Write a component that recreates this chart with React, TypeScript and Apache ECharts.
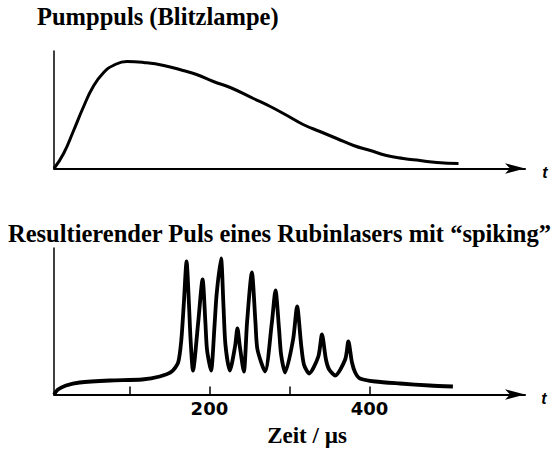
import React, { useEffect, useRef } from "react";
import * as echarts from "echarts";

// Pump pulse (flash lamp): time in µs, relative intensity
const pumpTime = [6, 18, 30, 43, 55, 68, 80, 97, 118, 143, 167, 184, 205, 226, 255, 276, 297, 317, 338, 359, 380, 401, 421, 442, 463, 484, 511];
const pumpIntensity = [0, 15, 37, 62, 82, 96, 103, 107, 106, 103, 98, 94, 87, 81, 70, 62, 53, 44, 37, 30, 23, 18, 13, 10, 8, 6, 5];

// Ruby laser output with spiking: time in µs, relative intensity
const laserTime = [6, 11, 21, 38, 76, 116, 138, 153, 161, 165, 168, 171.5, 174.5, 176.5, 179.5, 186, 191.5, 195, 197, 202, 206.5, 209, 214.5, 217.5, 220, 225.5, 232, 235, 238, 243, 247, 253, 257.5, 260, 269.5, 278, 282.5, 287, 289.5, 294.5, 304.5, 309.5, 314.5, 318, 324.5, 336, 340.5, 345.5, 349.5, 357, 369.5, 373.5, 378, 382, 388, 407, 438, 475, 504];
const laserIntensity = [0, 5, 9, 12, 14, 15, 18, 23, 32, 55, 90, 133, 90, 55, 24, 72, 115, 72, 45, 24, 70, 100, 136, 90, 50, 24, 48, 66, 48, 23, 72, 122, 72, 45, 23, 72, 104, 65, 40, 22, 55, 88, 50, 30, 21, 38, 60, 35, 25, 19, 35, 53, 32, 22, 16, 13, 11, 9, 8];

const tickValues = [100, 200, 300, 400];
const labelValues = [200, 400];

const title1 = "Pumppuls (Blitzlampe)";
const title2 = "Resultierender Puls eines Rubinlasers mit \u201Cspiking\u201D";
const xName = "Zeit / \u00B5s";

export default function App() {
  const ref = useRef<HTMLDivElement>(null);

  useEffect(() => {
    if (!ref.current) return;
    const chart = echarts.init(ref.current, null, { renderer: "svg" });
    const black = "#000";
    const serif = "'Liberation Serif', 'Times New Roman', serif";

    const baseX = {
      type: "value",
      min: 6,
      max: 594,
      splitLine: { show: false },
      axisLine: {
        show: true,
        symbol: ["none", "arrow"],
        symbolSize: [8, 20],
        lineStyle: { color: black, width: 2 },
      },
    };
    const baseY = {
      type: "value",
      min: 0,
      splitLine: { show: false },
      axisTick: { show: false },
      axisLabel: { show: false },
      axisLine: { show: true, lineStyle: { color: black, width: 1.5 } },
    };

    chart.setOption({
      animation: false,
      backgroundColor: "#fff",
      grid: [
        { left: 54, right: 30, top: 51, height: 117.5 },
        { left: 54, right: 30, top: 248, height: 146.5 },
      ],
      xAxis: [
        {
          ...baseX,
          gridIndex: 0,
          axisTick: { show: false },
          axisLabel: { show: false },
        },
        {
          ...baseX,
          gridIndex: 1,
          axisTick: {
            show: true,
            inside: true,
            length: 8,
            customValues: tickValues,
            lineStyle: { color: black, width: 1.5 },
          },
          axisLabel: {
            show: true,
            customValues: labelValues,
            margin: 5,
            color: black,
            fontFamily: "'DejaVu Sans', sans-serif",
            fontWeight: "bold",
            fontSize: 18,
          },
        },
      ],
      yAxis: [
        { ...baseY, gridIndex: 0, max: 117.5 },
        { ...baseY, gridIndex: 1, max: 146.5 },
      ],
      series: [
        {
          type: "line",
          xAxisIndex: 0,
          yAxisIndex: 0,
          data: pumpTime.map((t, i) => [t, pumpIntensity[i]]),
          showSymbol: false,
          smooth: true,
          lineStyle: { color: black, width: 3 },
        },
        {
          type: "line",
          xAxisIndex: 1,
          yAxisIndex: 1,
          data: laserTime.map((t, i) => [t, laserIntensity[i]]),
          showSymbol: false,
          smooth: 0.25,
          lineStyle: { color: black, width: 3.8, join: "round" },
        },
      ],
      graphic: [
        {
          type: "text",
          left: 37,
          top: 4,
          style: { text: title1, font: `bold 24.5px ${serif}`, fill: black },
        },
        {
          type: "text",
          left: 8,
          top: 221,
          style: { text: title2, font: `bold 24.5px ${serif}`, fill: black },
        },
        {
          type: "text",
          x: 307,
          y: 435,
          style: {
            text: xName,
            font: `bold 23px ${serif}`,
            fill: black,
            align: "center",
            verticalAlign: "middle",
          },
        },
        {
          type: "text",
          x: 545,
          y: 172,
          style: {
            text: "t",
            font: "italic bold 16px 'Liberation Sans', sans-serif",
            fill: black,
            align: "center",
            verticalAlign: "middle",
          },
        },
        {
          type: "text",
          x: 544,
          y: 398,
          style: {
            text: "t",
            font: "italic bold 16px 'Liberation Sans', sans-serif",
            fill: black,
            align: "center",
            verticalAlign: "middle",
          },
        },
      ],
    });

    return () => chart.dispose();
  }, []);

  return (
    <div
      ref={ref}
      style={{ position: "fixed", left: 0, top: 0, width: 555, height: 459 }}
    />
  );
}
